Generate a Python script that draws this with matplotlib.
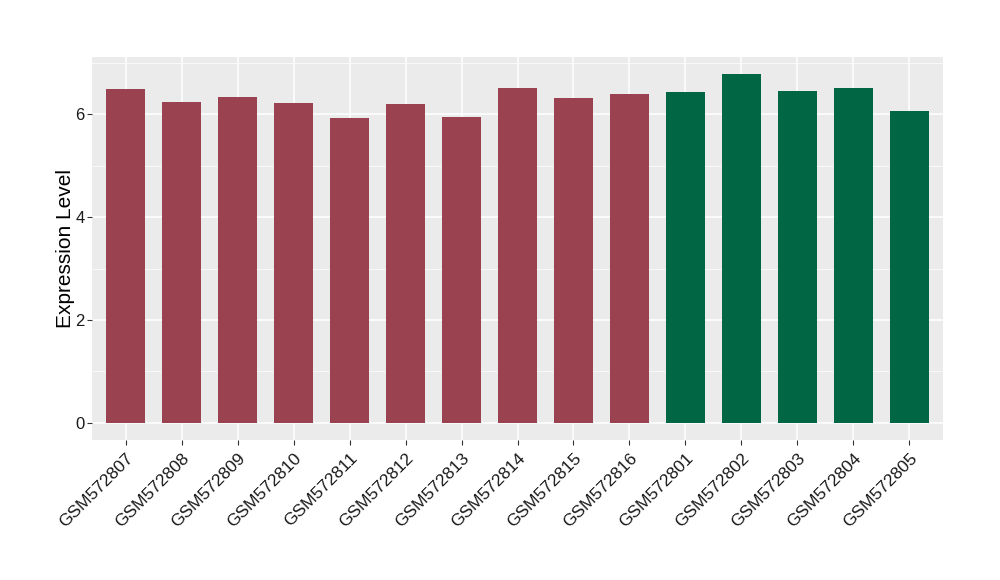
import numpy as np
import matplotlib.pyplot as plt
from matplotlib.ticker import MultipleLocator

# sample names and expression values
samples = ['GSM572807', 'GSM572808', 'GSM572809', 'GSM572810', 'GSM572811',
           'GSM572812', 'GSM572813', 'GSM572814', 'GSM572815', 'GSM572816',
           'GSM572801', 'GSM572802', 'GSM572803', 'GSM572804', 'GSM572805']
expression = [6.49, 6.24, 6.34, 6.22, 5.93, 6.20, 5.95, 6.51, 6.32, 6.39,
              6.43, 6.78, 6.45, 6.51, 6.06]
group = ['a'] * 10 + ['b'] * 5

group_colors = {'a': '#9A4250', 'b': '#006644'}

plt.rcParams['font.family'] = ['Liberation Sans', 'DejaVu Sans']

fig = plt.figure(figsize=(10, 5.8), dpi=100)
ax = fig.add_axes([0.0923, 0.2409, 0.8504, 0.6613])

x = np.arange(len(samples))
ax.bar(x, expression, width=0.7, color=[group_colors[g] for g in group], zorder=3)

ymax = max(expression)
ax.set_ylim(-0.05 * ymax, ymax * 1.05)
ax.set_xlim(-0.6, len(samples) - 0.4)

# ggplot-like theme
ax.set_facecolor('#EBEBEB')
for s in ax.spines.values():
    s.set_visible(False)
ax.yaxis.set_major_locator(MultipleLocator(2))
ax.yaxis.set_minor_locator(MultipleLocator(1))
ax.grid(which='major', color='white', linewidth=1.1, zorder=0)
ax.grid(which='minor', axis='y', color='white', linewidth=0.5, zorder=0)
ax.tick_params(which='minor', length=0)
ax.tick_params(which='major', length=3.5, width=0.8, color='#333333',
               labelsize=12, labelcolor='#1A1A1A', pad=2)

ax.set_xticks(x)
ax.set_xticklabels(samples, rotation=45, ha='right', rotation_mode='anchor',
                   fontsize=12.5, color='#1A1A1A')
ax.tick_params(axis='x', pad=4)
ax.set_ylabel('Expression Level', fontsize=15, labelpad=0)

fig.savefig('out.png', dpi=100)
